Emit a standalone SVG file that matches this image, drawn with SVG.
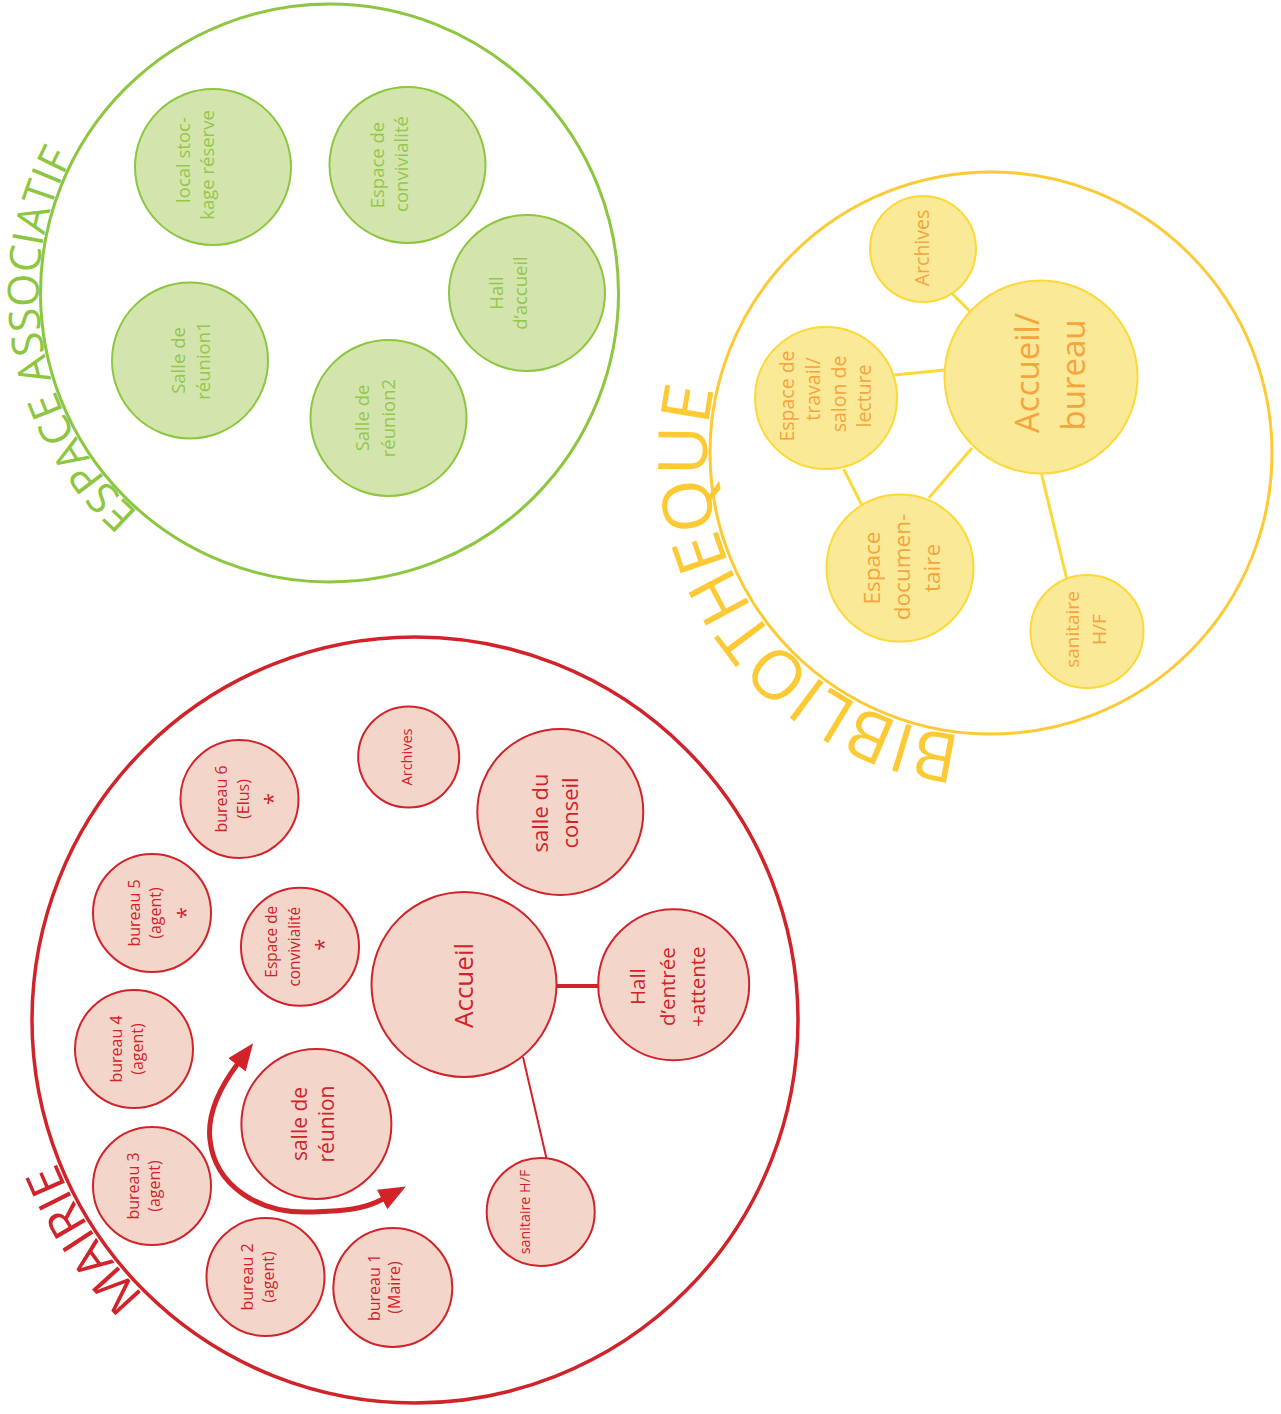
<svg xmlns="http://www.w3.org/2000/svg" width="1281" height="1414" viewBox="0 0 1281 1414">
<style>
text{font-family:"Open Sans","Noto Sans","Liberation Sans",sans-serif;text-anchor:middle}
.title{font-weight:400;text-anchor:start}
.zone{fill:none}
.g{fill:#d3e5ad;stroke:#8dc63f;stroke-width:2}
.gt{fill:#95c74d;font-size:18.5px}
.y{fill:#fae996;stroke:#fcd939;stroke-width:2}
.yt{fill:#f7a43c}
.r{fill:#f4d5ca;stroke:#d1232a;stroke-width:2}
.rt{fill:#d1232a}
.ylink{stroke:#fcd939;stroke-width:3;fill:none}
.rlink{stroke:#d1232a;fill:none}
</style>
<defs>
<marker id="ah" viewBox="0 0 27 22" markerUnits="userSpaceOnUse" markerWidth="27" markerHeight="22" refX="1" refY="11" orient="auto-start-reverse">
<path d="M0,0 L27,11 L0,22 z" fill="#d1232a"/>
</marker>
<path id="pathGreen" d="M138.6,512.6 A291,291 0 0 1 72.6,156.4"/>
<path id="pathYellow" d="M961.3,735.4 A284,284 0 0 1 714.3,389.1"/>
<path id="pathRed" d="M144.5,1295.3 A386,386 0 0 1 55.9,1161.5"/>
</defs>

<!-- zones -->
<g id="zone-espace-associatif">
<circle class="zone" cx="329.5" cy="293" r="289" stroke="#8dc63f" stroke-width="3"/>
<text class="title" fill="#8dc63f" font-size="43"><textPath href="#pathGreen" textLength="391" lengthAdjust="spacingAndGlyphs">ESPACE ASSOCIATIF</textPath></text>
</g>
<g id="zone-bibliotheque">
<circle class="zone" cx="991" cy="453" r="281" stroke="#fdc935" stroke-width="3"/>
<text class="title" fill="#fdc935" font-size="68"><textPath href="#pathYellow" textLength="481" lengthAdjust="spacingAndGlyphs">BIBLIOTHEQUE</textPath></text>
</g>
<g id="zone-mairie">
<circle class="zone" cx="415" cy="1020" r="383" stroke="#d1232a" stroke-width="3.5"/>
<text class="title" fill="#d1232a" font-size="48"><textPath href="#pathRed" textLength="161" lengthAdjust="spacingAndGlyphs">MAIRIE</textPath></text>
</g>

<!-- connectors -->
<g id="connectors">
<line class="ylink" x1="952.5" y1="294" x2="969.5" y2="311"/>
<line class="ylink" x1="894.4" y1="375" x2="944.5" y2="370"/>
<line class="ylink" x1="843.7" y1="469" x2="861.5" y2="504.5"/>
<line class="ylink" x1="928.8" y1="498" x2="972" y2="448"/>
<line class="ylink" x1="1041.5" y1="474" x2="1067" y2="580"/>
<line class="rlink" stroke-width="4" x1="556" y1="986" x2="599" y2="986"/>
<line class="rlink" stroke-width="2" x1="523" y1="1057" x2="546.5" y2="1158.5"/>
<path class="rlink" stroke-width="5" d="M237.5,1064 C218,1090 207,1115 210,1140 C215,1185 258,1214 310,1212 C335,1211 360,1211.5 383,1199" marker-start="url(#ah)" marker-end="url(#ah)"/>
</g>

<!-- green nodes -->
<g id="ea-local-stockage">
<circle class="g" cx="213" cy="167" r="78"/>
<text class="gt" transform="translate(213,167) rotate(-90)"><tspan x="7" y="-23">local stoc-</tspan><tspan x="2" y="1">kage réserve</tspan></text>
</g>
<g id="ea-espace-convivialite">
<circle class="g" cx="407.5" cy="165" r="78"/>
<text class="gt" transform="translate(407.5,165) rotate(-90)"><tspan x="0" y="-24">Espace de</tspan><tspan x="1" y="0">convivialité</tspan></text>
</g>
<g id="ea-hall-accueil">
<circle class="g" cx="527" cy="293" r="78"/>
<text class="gt" transform="translate(527,293) rotate(-90)"><tspan x="0" y="-24">Hall</tspan><tspan x="0" y="0">d’accueil</tspan></text>
</g>
<g id="ea-salle-reunion1">
<circle class="g" cx="190" cy="360.5" r="78"/>
<text class="gt" transform="translate(190,360.5) rotate(-90)"><tspan x="0" y="-5">Salle de</tspan><tspan x="0" y="20">réunion1</tspan></text>
</g>
<g id="ea-salle-reunion2">
<circle class="g" cx="388.5" cy="418" r="78"/>
<text class="gt" transform="translate(388.5,418) rotate(-90)"><tspan x="0" y="-20">Salle de</tspan><tspan x="0" y="6">réunion2</tspan></text>
</g>

<!-- yellow nodes -->
<g id="bib-archives">
<circle class="y" cx="923" cy="249" r="53"/>
<text class="yt" font-size="19.5" transform="translate(923,249) rotate(-90)"><tspan x="1" y="6">Archives</tspan></text>
</g>
<g id="bib-accueil-bureau">
<circle class="y" cx="1041" cy="377" r="96.5" stroke-width="3.5"/>
<text class="yt" font-size="33" transform="translate(1041,377) rotate(-90)"><tspan x="4" y="-2">Accueil/</tspan><tspan x="2" y="44">bureau</tspan></text>
</g>
<g id="bib-espace-travail">
<circle class="y" cx="826" cy="398" r="71"/>
<text class="yt" font-size="19.5" transform="translate(826,398) rotate(-90)"><tspan x="2" y="-32">Espace de</tspan><tspan x="9" y="-6">travail/</tspan><tspan x="4" y="20">salon de</tspan><tspan x="2" y="45">lecture</tspan></text>
</g>
<g id="bib-espace-documentaire">
<circle class="y" cx="900" cy="568" r="73.5"/>
<text class="yt" font-size="22.5" transform="translate(900,568) rotate(-90)"><tspan x="0" y="-20">Espace</tspan><tspan x="1" y="10">documen-</tspan><tspan x="0" y="40">taire</tspan></text>
</g>
<g id="bib-sanitaire">
<circle class="y" cx="1087" cy="631.5" r="56.5"/>
<text class="yt" font-size="19" transform="translate(1087,631.5) rotate(-90)"><tspan x="2" y="-8">sanitaire</tspan><tspan x="2" y="19">H/F</tspan></text>
</g>

<!-- red nodes -->
<g id="m-archives">
<circle class="r" cx="408.7" cy="757" r="50.5"/>
<text class="rt" font-size="14.5" transform="translate(408.7,757) rotate(-90)"><tspan x="0" y="3">Archives</tspan></text>
</g>
<g id="m-salle-conseil">
<circle class="r" cx="560.3" cy="812" r="83" stroke-width="2.5"/>
<text class="rt" font-size="22" transform="translate(560.3,812) rotate(-90)"><tspan x="-1" y="-12">salle du</tspan><tspan x="-1" y="18">conseil</tspan></text>
</g>
<g id="m-bureau6">
<circle class="r" cx="239.5" cy="799" r="59"/>
<text class="rt" font-size="16" transform="translate(239.5,799) rotate(-90)"><tspan x="0" y="-12.5">bureau 6</tspan><tspan x="0" y="9.5">(Elus)</tspan><tspan x="0" y="40" font-size="22">*</tspan></text>
</g>
<g id="m-bureau5">
<circle class="r" cx="152" cy="913" r="59"/>
<text class="rt" font-size="16" transform="translate(152,913) rotate(-90)"><tspan x="0" y="-12">bureau 5</tspan><tspan x="0" y="9">(agent)</tspan><tspan x="0" y="41" font-size="22">*</tspan></text>
</g>
<g id="m-espace-convivialite">
<circle class="r" cx="300" cy="946.7" r="59"/>
<text class="rt" font-size="15.4" transform="translate(300,946.7) rotate(-90)"><tspan x="5" y="-23">Espace de</tspan><tspan x="0" y="0">convivialité</tspan><tspan x="2" y="31" font-size="22">*</tspan></text>
</g>
<g id="m-bureau4">
<circle class="r" cx="134" cy="1049" r="59"/>
<text class="rt" font-size="16" transform="translate(134,1049) rotate(-90)"><tspan x="0" y="-12">bureau 4</tspan><tspan x="0" y="9">(agent)</tspan></text>
</g>
<g id="m-bureau3">
<circle class="r" cx="152" cy="1186" r="59"/>
<text class="rt" font-size="16" transform="translate(152,1186) rotate(-90)"><tspan x="0" y="-13.5">bureau 3</tspan><tspan x="0" y="8">(agent)</tspan></text>
</g>
<g id="m-bureau2">
<circle class="r" cx="265.5" cy="1277" r="59"/>
<text class="rt" font-size="16" transform="translate(265.5,1277) rotate(-90)"><tspan x="0" y="-12.5">bureau 2</tspan><tspan x="0" y="8">(agent)</tspan></text>
</g>
<g id="m-bureau1">
<circle class="r" cx="392.8" cy="1287.5" r="59.5"/>
<text class="rt" font-size="16" transform="translate(392.8,1287.5) rotate(-90)"><tspan x="0" y="-12.8">bureau 1</tspan><tspan x="0" y="7.5">(Maire)</tspan></text>
</g>
<g id="m-salle-reunion">
<circle class="r" cx="316.4" cy="1124" r="75"/>
<text class="rt" font-size="21" transform="translate(316.4,1124) rotate(-90)"><tspan x="0" y="-9.5">salle de</tspan><tspan x="0" y="17.5">réunion</tspan></text>
</g>
<g id="m-accueil">
<circle class="r" cx="464" cy="984.5" r="92.5" stroke-width="3"/>
<text class="rt" font-size="26" transform="translate(464,984.5) rotate(-90)"><tspan x="-1" y="9">Accueil</tspan></text>
</g>
<g id="m-hall">
<circle class="r" cx="673.7" cy="984.7" r="75.5"/>
<text class="rt" font-size="20.5" transform="translate(673.7,984.7) rotate(-90)"><tspan x="-2" y="-29">Hall</tspan><tspan x="-2" y="1">d’entrée</tspan><tspan x="-2" y="31">+attente</tspan></text>
</g>
<g id="m-sanitaire">
<circle class="r" cx="540.7" cy="1212" r="54"/>
<text class="rt" font-size="14.3" transform="translate(540.7,1212) rotate(-90)"><tspan x="0" y="-10.7">sanitaire H/F</tspan></text>
</g>
</svg>
